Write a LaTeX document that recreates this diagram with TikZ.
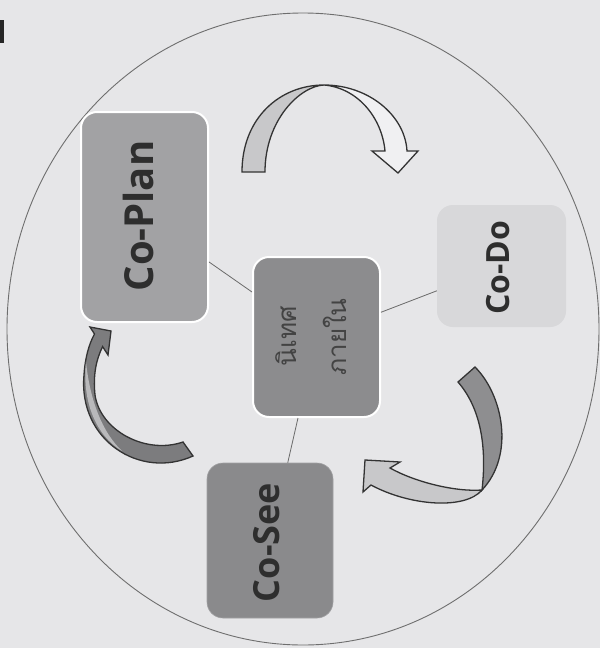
\documentclass[tikz,border=0pt]{standalone}
\usepackage{fontspec}
\newfontfamily\labfont{Open Sans}
\newfontfamily\thaifont[Script=Thai]{Loma}
\definecolor{paper}{HTML}{E6E6E8}
\definecolor{ringcol}{HTML}{6E6E6E}
\definecolor{linkcol}{HTML}{6A6A6A}
\definecolor{plancol}{HTML}{A2A2A4}
\definecolor{midcol}{HTML}{8C8C8E}
\definecolor{docol}{HTML}{D8D8DA}
\definecolor{seecol}{HTML}{8A8A8C}
\definecolor{txtcol}{HTML}{2E2E2E}
\definecolor{arrline}{HTML}{333333}
\definecolor{arrdark}{HTML}{7C7C7E}
\definecolor{arrmid}{HTML}{8E8E90}
\definecolor{arrlight}{HTML}{C8C8CA}
\definecolor{arrwhite}{HTML}{F0F0F2}
\begin{document}
\begin{tikzpicture}[x=1pt,y=-1pt,
  boxbase/.style={rectangle, rounded corners=16pt, inner sep=0pt},
  whitebox/.style={boxbase, draw=white, line width=2pt},
  lab/.style={rotate=90, inner sep=0pt, text=txtcol, font=\labfont\bfseries},
  thailab/.style={rotate=90, inner sep=0pt, text=txtcol!90, font=\thaifont\fontsize{26}{30}\selectfont},
  link/.style={draw=linkcol, line width=0.8pt},
  arrow outline/.style={draw=arrline, line width=1.3pt, line join=miter}
]
\useasboundingbox (0,0) rectangle (600,648);
\fill[paper] (0,0) rectangle (600,648);
\fill[black!85] (0,20) rectangle (4,43);
% ring
\draw[ringcol, line width=0.9pt] (303,329) ellipse [x radius=296pt, y radius=316pt];

% boxes
\node[whitebox, fill=plancol, minimum width=127pt, minimum height=210pt] (coplan) at (144.5,217) {};
\node[whitebox, fill=midcol, minimum width=127pt, minimum height=160pt] (mid) at (316.5,337) {};
\node[boxbase, fill=docol, minimum width=129pt, minimum height=122pt] (codo) at (501.5,266) {};
\node[boxbase, fill=seecol, draw=seecol!80!white, line width=0.6pt, minimum width=126pt, minimum height=155pt] (cosee) at (270,540.5) {};

% connectors
\draw[link] (coplan) -- (mid);
\draw[link] (codo) -- (mid);
\draw[link] (cosee) -- (mid);

% labels
\node[lab, font=\labfont\bfseries\fontsize{40}{48}\selectfont] (tplan) at (138,216) {Co-Plan};
\node[lab, font=\labfont\bfseries\fontsize{32}{38}\selectfont] (tdo) at (498.5,267.5) {Co-Do};
\node[lab, font=\labfont\bfseries\fontsize{36}{42}\selectfont] (tsee) at (266.5,542.5) {Co-See};
\node[thailab] (tthai1) at (286,336) {นิเทศ};
\node[thailab] (tthai2) at (335,337) {ภายใน};

% top arrow (Co-Plan -> Co-Do)
\filldraw[arrow outline, fill=arrlight]
  (242,172) .. controls (242,118) and (280,85) .. (324,85)
  .. controls (300,86) and (265,120) .. (265,172) -- cycle;
\filldraw[arrow outline, fill=arrwhite]
  (324,85) .. controls (368,85) and (405,115) .. (407,151)
  -- (418,151) -- (398,173) -- (372,151) -- (385,151)
  .. controls (382,118) and (358,88) .. (324,85) -- cycle;

% right arrow (Co-Do -> Co-See)
\filldraw[arrow outline, fill=arrmid]
  (475,367) .. controls (503,395) and (515,455) .. (482,490)
  .. controls (486,455) and (484,412) .. (458,382) -- cycle;
\filldraw[arrow outline, fill=arrlight]
  (482,490) .. controls (465,510) and (410,506) .. (371,485)
  -- (363,492) -- (365,460) -- (400,462) -- (390,468)
  .. controls (415,482) and (455,492) .. (482,490) -- cycle;

% left arrow (Co-See -> Co-Plan)
\filldraw[arrow outline, fill=arrdark]
  (193,456) .. controls (140,480) and (78,440) .. (84,375)
  .. controls (85,358) and (89,344) .. (94.5,334)
  -- (90,327) -- (111,331) -- (108,355) -- (102.6,346.6)
  .. controls (96,360) and (93,375) .. (95,395)
  .. controls (100,430) and (145,455) .. (183,442) -- cycle;
\fill[arrlight!80!arrdark]
  (86,362) .. controls (82,400) and (95,435) .. (122,451)
  .. controls (102,432) and (90,400) .. (86,362) -- cycle;
\end{tikzpicture}
\end{document}
